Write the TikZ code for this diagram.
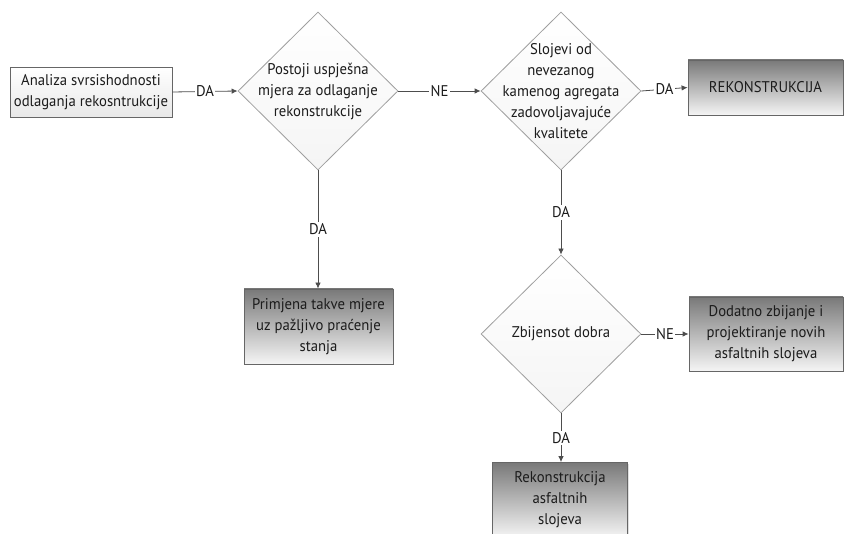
\documentclass[tikz,border=0pt]{standalone}
\usepackage{fontspec}
\setmainfont{PT Sans}[FakeStretch=0.95]
\usetikzlibrary{shapes.geometric}
\usetikzlibrary{arrows.meta}
\usetikzlibrary{shadows}
\definecolor{linegray}{HTML}{4D4D4D}
\definecolor{framegray}{HTML}{666666}
\definecolor{txtgray}{HTML}{1C1C1C}

\begin{document}
\begin{tikzpicture}[x=1pt,y=-1pt,
	every node/.style={font=\fontsize{15.5}{21}\selectfont, text=txtgray},
	lightbox/.style={rectangle, draw=framegray, line width=0.8pt, align=center,
		top color=white, bottom color=gray!18,
		drop shadow={shadow xshift=1.2pt, shadow yshift=-1.2pt, opacity=0.25}},
	darkbox/.style={rectangle, draw=framegray, line width=0.8pt, align=center,
		top color=gray!95!black, bottom color=gray!8,
		drop shadow={shadow xshift=1.2pt, shadow yshift=-1.2pt, opacity=0.25}},
	decision/.style={diamond, draw=gray!75, line width=0.8pt, inner sep=0pt,
		minimum width=160, minimum height=158, top color=white, bottom color=gray!8},
	inside/.style={align=center},
	flow/.style={draw=linegray, line width=0.8pt, -{Latex[length=6pt,width=5.5pt]}},
	answer/.style={fill=white, inner sep=1.5pt, midway}]

	\useasboundingbox (0,0) rectangle (844,534);

	% first row
	\node[lightbox, minimum width=162, minimum height=50, inner sep=2pt] (analiza) at (91,92)
		{Analiza svrsishodnosti\\odlaganja rekosntrukcije};
	\node[decision, label={[inside]center:Postoji uspješna\\mjera za odlaganje\\rekonstrukcije}] (mjera) at (318,91) {};
	\node[decision, label={[inside]center:Slojevi od\\nevezanog\\kamenog agregata\\zadovoljavajuće\\kvalitete}] (slojevi) at (561,91) {};
	\node[darkbox, minimum width=155, minimum height=55] (rekon) at (765.5,87.5) {REKONSTRUKCIJA};

	% lower part
	\node[darkbox, minimum width=149, minimum height=75] (primjena) at (318.5,326.5)
		{Primjena takve mjere\\uz pažljivo praćenje\\stanja};
	\node[decision, label={[inside]center:Zbijensot dobra}] (zbijenost) at (561,334) {};
	\node[darkbox, minimum width=154, minimum height=74] (dodatno) at (766,334)
		{Dodatno zbijanje i\\projektiranje novih\\asfaltnih slojeva};
	\node[darkbox, minimum width=135, minimum height=75] (asfalt) at (560,500)
		{Rekonstrukcija\\asfaltnih\\slojeva};

	% connectors
	\draw[flow] (analiza.east) -- node[answer] {DA} (mjera.west);
	\draw[flow] (mjera.east) -- node[answer] {NE} (slojevi.west);
	\draw[flow] (slojevi.east) -- node[answer] {DA} (rekon.west);
	\draw[flow] (mjera.south) -- node[answer] {DA} (mjera.south |- primjena.north);
	\draw[flow] (slojevi.south) -- node[answer] {DA} (zbijenost.north);
	\draw[flow] (zbijenost.east) -- node[answer] {NE} (dodatno.west);
	\draw[flow] (zbijenost.south) -- node[answer] {DA} (zbijenost.south |- asfalt.north);

\end{tikzpicture}
\end{document}
